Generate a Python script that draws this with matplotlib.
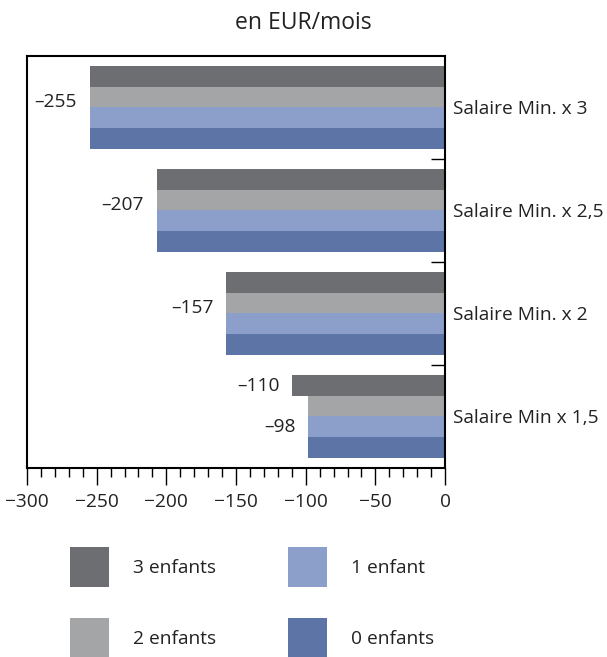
import matplotlib.pyplot as plt
import numpy as np

plt.rcParams["font.family"] = ["Open Sans", "DejaVu Sans"]

# données (EUR/mois)
categories = ["Salaire Min. x 3", "Salaire Min. x 2,5", "Salaire Min. x 2", "Salaire Min x 1,5"]
series_names = ["3 enfants", "2 enfants", "1 enfant", "0 enfants"]
enfants_3 = [-255, -207, -157, -110]
enfants_2 = [-255, -207, -157, -98]
enfant_1 = [-255, -207, -157, -98]
enfants_0 = [-255, -207, -157, -98]
colors = ["#6d6e72", "#a4a5a7", "#8c9fca", "#5c74a6"]
xticks = [-300, -250, -200, -150, -100, -50, 0]

series = [enfants_3, enfants_2, enfant_1, enfants_0]
fs = 13.8
txt = "#222222"

fig = plt.figure(figsize=(6.07, 6.57), dpi=100)
ax = fig.add_axes([0.0445, 0.2877, 0.6887, 0.6271])

y = np.arange(len(categories))
h = 0.2
handles = []
for k, (vals, col) in enumerate(zip(series, colors)):
    bars = ax.barh(y - 0.3 + k * h, vals, height=h, color=col, label=series_names[k])
    handles.append(bars)

# étiquettes de valeurs
for i in range(3):
    ax.annotate("–%d" % abs(enfants_3[i]), (enfants_3[i], y[i] - 0.05),
                xytext=(-9, 0), textcoords="offset points",
                ha="right", va="center", fontsize=fs, color=txt)
ax.annotate("–%d" % abs(enfants_3[3]), (enfants_3[3], y[3] - 0.3),
            xytext=(-9, 0), textcoords="offset points",
            ha="right", va="center", fontsize=fs, color=txt)
ax.annotate("–%d" % abs(enfant_1[3]), (enfant_1[3], y[3] + 0.1),
            xytext=(-9, 0), textcoords="offset points",
            ha="right", va="center", fontsize=fs, color=txt)

ax.set_xlim(-300, 0)
ax.set_ylim(len(categories) - 0.5, -0.5)
ax.set_xticks(xticks)
ax.set_xticklabels([("\u2212%d" % abs(v)) if v else "0" for v in xticks], fontsize=fs, color=txt)
ax.set_xticks(np.arange(-300, 1, 10), minor=True)
ax.tick_params(axis="x", which="major", direction="out", length=12, width=1, pad=6)
ax.tick_params(axis="x", which="minor", direction="out", length=6.5, width=1)

ax.yaxis.tick_right()
ax.set_yticks(y)
ax.set_yticklabels(categories, fontsize=fs, color=txt)
ax.tick_params(axis="y", which="major", length=0, pad=6)
ax.set_yticks(y[:-1] + 0.5, minor=True)
ax.tick_params(axis="y", which="minor", direction="in", length=10, width=1,
               right=True, left=False)

for s in ax.spines.values():
    s.set_linewidth(1.5)

fig.text(0.5, 0.965, "en EUR/mois", ha="center", va="center", fontsize=16.5, color=txt)

fig.legend(handles=handles, labels=series_names, ncol=2, frameon=False,
           loc="upper left", bbox_to_anchor=(0.1153, 0.1674), fontsize=fs,
           handlelength=2.03, handleheight=2.83, handletextpad=1.25,
           columnspacing=3.75, labelspacing=1.62, borderpad=0, borderaxespad=0,
           labelcolor=txt)

fig.savefig("out.png", dpi=100)
